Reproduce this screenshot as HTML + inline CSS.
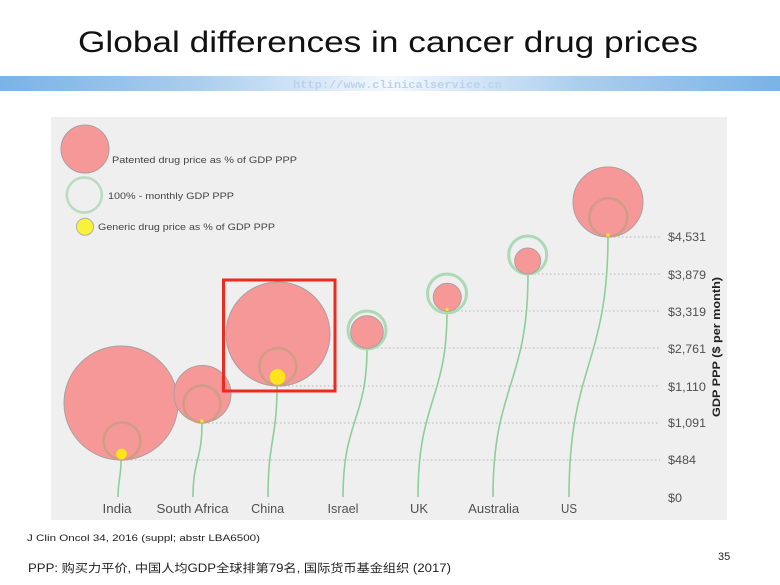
<!DOCTYPE html>
<html><head><meta charset="utf-8"><style>
html,body{margin:0;padding:0;background:#fff;}
svg{display:block;}
</style></head><body>
<svg width="780" height="585" viewBox="0 0 780 585" xmlns="http://www.w3.org/2000/svg">
<defs>
<linearGradient id="band" x1="0" y1="0" x2="1" y2="0">
<stop offset="0" stop-color="#7ab3e6"/>
<stop offset="0.25" stop-color="#a9cdee"/>
<stop offset="0.5" stop-color="#f4f8fd"/>
<stop offset="0.75" stop-color="#a9cdee"/>
<stop offset="1" stop-color="#7ab3e6"/>
</linearGradient>
</defs>
<rect width="780" height="585" fill="#fff"/>
<text x="388" y="52" text-anchor="middle" font-family="Liberation Sans, sans-serif" font-size="30" fill="#111" textLength="620" lengthAdjust="spacingAndGlyphs">Global differences in cancer drug prices</text>
<rect x="0" y="76" width="780" height="15" fill="url(#band)"/>
<text x="293" y="88" font-family="Liberation Mono, monospace" font-weight="bold" font-size="11" fill="#bcd2ea" textLength="209" lengthAdjust="spacingAndGlyphs">http://www.clinicalservice.cn</text>

<rect x="51" y="117" width="676" height="403" fill="#efefef"/>

<!-- dotted grid -->
<g stroke="#c8c8c8" stroke-width="1.5" stroke-dasharray="1.5,2.5">
<line x1="610" y1="237" x2="660" y2="237"/>
<line x1="530" y1="274" x2="660" y2="274"/>
<line x1="449" y1="311" x2="660" y2="311"/>
<line x1="369" y1="348" x2="660" y2="348"/>
<line x1="280" y1="386" x2="660" y2="386"/>
<line x1="204" y1="423" x2="660" y2="423"/>
<line x1="123" y1="460" x2="660" y2="460"/>
</g>

<!-- stems -->
<g stroke="#8ccf98" stroke-width="1.6" fill="none">
<path d="M121 460 C121 478,118 480,118 497"/>
<path d="M202 423 C202 460,193 460,193 497"/>
<path d="M277 386 C277 440,268 440,268 497"/>
<path d="M367 348 C367 420,343 420,343 497"/>
<path d="M447 311 C447 400,418 400,418 497"/>
<path d="M528 274 C528 385,493 385,493 497"/>
<path d="M608 236 C608 365,569 365,569 497"/>
</g>

<!-- India -->
<circle cx="121" cy="403" r="57" fill="#f79898" stroke="#a9a0a0" stroke-width="1"/>
<circle cx="122" cy="441" r="18.5" fill="none" stroke="#cf9c88" stroke-width="2.5"/>
<circle cx="121.5" cy="454" r="5.5" fill="#ffe31c" stroke="#e0c040" stroke-width="0.5"/>
<!-- South Africa -->
<circle cx="202.5" cy="394" r="28.5" fill="#f79898" stroke="#a9a0a0" stroke-width="1"/>
<circle cx="202" cy="404" r="18.5" fill="none" stroke="#cf9c88" stroke-width="2.5"/>
<circle cx="202" cy="421" r="1.8" fill="#ffe31c"/>
<!-- China -->
<circle cx="278" cy="334" r="52" fill="#f79898" stroke="#a9a0a0" stroke-width="1"/>
<circle cx="277.7" cy="366.5" r="18.5" fill="none" stroke="#cf9c88" stroke-width="2.5"/>
<circle cx="277.5" cy="377" r="8" fill="#ffe31c" stroke="#e0c040" stroke-width="0.5"/>
<!-- Israel -->
<circle cx="367" cy="330" r="19" fill="none" stroke="#add9b4" stroke-width="3"/>
<circle cx="367" cy="332" r="16.3" fill="#f79898" stroke="#a9a0a0" stroke-width="1"/>
<!-- UK -->
<circle cx="447" cy="293.5" r="19.5" fill="none" stroke="#add9b4" stroke-width="3"/>
<circle cx="447.3" cy="297.3" r="14" fill="#f79898" stroke="#a9a0a0" stroke-width="1"/>
<circle cx="447" cy="309.5" r="1.6" fill="#ffe31c"/>
<!-- Australia -->
<circle cx="527.7" cy="255" r="19" fill="none" stroke="#add9b4" stroke-width="3"/>
<circle cx="527.7" cy="261" r="13" fill="#f79898" stroke="#a9a0a0" stroke-width="1"/>
<!-- US -->
<circle cx="608" cy="202" r="35" fill="#f79898" stroke="#a9a0a0" stroke-width="1"/>
<circle cx="608.3" cy="217.3" r="19" fill="none" stroke="#cf9c88" stroke-width="2.5"/>
<circle cx="608" cy="235" r="1.8" fill="#ffe31c"/>

<!-- red box -->
<rect x="223.5" y="280" width="111.5" height="111" fill="none" stroke="#ee2a1c" stroke-width="3"/>

<!-- legend -->
<circle cx="85" cy="149" r="24" fill="#f79898" stroke="#a9a0a0" stroke-width="1"/>
<text x="112" y="163" font-family="Liberation Sans, sans-serif" font-size="9.5" fill="#444" textLength="185" lengthAdjust="spacingAndGlyphs">Patented drug price as % of GDP PPP</text>
<circle cx="84.3" cy="195" r="17.5" fill="none" stroke="#b8dcc0" stroke-width="2.5"/>
<text x="108" y="199" font-family="Liberation Sans, sans-serif" font-size="9.5" fill="#444" textLength="126" lengthAdjust="spacingAndGlyphs">100% - monthly GDP PPP</text>
<circle cx="85" cy="226.7" r="8.5" fill="#f8f23a" stroke="#b0b0a0" stroke-width="1"/>
<text x="98" y="230" font-family="Liberation Sans, sans-serif" font-size="9.5" fill="#444" textLength="177" lengthAdjust="spacingAndGlyphs">Generic drug price as % of GDP PPP</text>

<!-- x labels -->
<g font-family="Liberation Sans, sans-serif" font-size="12.5" fill="#505050" text-anchor="middle">
<text x="117" y="513" textLength="29" lengthAdjust="spacingAndGlyphs">India</text>
<text x="192.5" y="513" textLength="72" lengthAdjust="spacingAndGlyphs">South Africa</text>
<text x="267.7" y="513" textLength="33" lengthAdjust="spacingAndGlyphs">China</text>
<text x="343" y="513" textLength="31" lengthAdjust="spacingAndGlyphs">Israel</text>
<text x="419" y="513" textLength="18" lengthAdjust="spacingAndGlyphs">UK</text>
<text x="493.7" y="513" textLength="51" lengthAdjust="spacingAndGlyphs">Australia</text>
<text x="569" y="513" textLength="16" lengthAdjust="spacingAndGlyphs">US</text>
</g>

<!-- y labels -->
<g font-family="Liberation Sans, sans-serif" font-size="12" fill="#505050">
<text x="668" y="241" textLength="38" lengthAdjust="spacingAndGlyphs">$4,531</text>
<text x="668" y="279" textLength="38" lengthAdjust="spacingAndGlyphs">$3,879</text>
<text x="668" y="316" textLength="38" lengthAdjust="spacingAndGlyphs">$3,319</text>
<text x="668" y="353" textLength="38" lengthAdjust="spacingAndGlyphs">$2,761</text>
<text x="668" y="391" textLength="38" lengthAdjust="spacingAndGlyphs">$1,110</text>
<text x="668" y="427" textLength="38" lengthAdjust="spacingAndGlyphs">$1,091</text>
<text x="668" y="464" textLength="28" lengthAdjust="spacingAndGlyphs">$484</text>
<text x="668" y="502" textLength="14" lengthAdjust="spacingAndGlyphs">$0</text>
</g>
<text transform="translate(720,347) rotate(-90)" text-anchor="middle" font-family="Liberation Sans, sans-serif" font-weight="bold" font-size="11" fill="#222" textLength="140" lengthAdjust="spacingAndGlyphs">GDP PPP ($ per month)</text>

<!-- footer -->
<text x="27" y="541" font-family="Liberation Sans, sans-serif" font-size="9.5" fill="#222" textLength="233" lengthAdjust="spacingAndGlyphs">J Clin Oncol 34, 2016 (suppl; abstr LBA6500)</text>
<text x="718" y="560" font-family="Liberation Sans, sans-serif" font-size="11" fill="#222">35</text>
<text x="28" y="572" font-family="Liberation Sans, Noto Sans CJK SC, sans-serif" font-size="11.5" fill="#222" textLength="423" lengthAdjust="spacingAndGlyphs">PPP: 购买力平价, 中国人均GDP全球排第79名, 国际货币基金组织 (2017)</text>
</svg>
</body></html>
